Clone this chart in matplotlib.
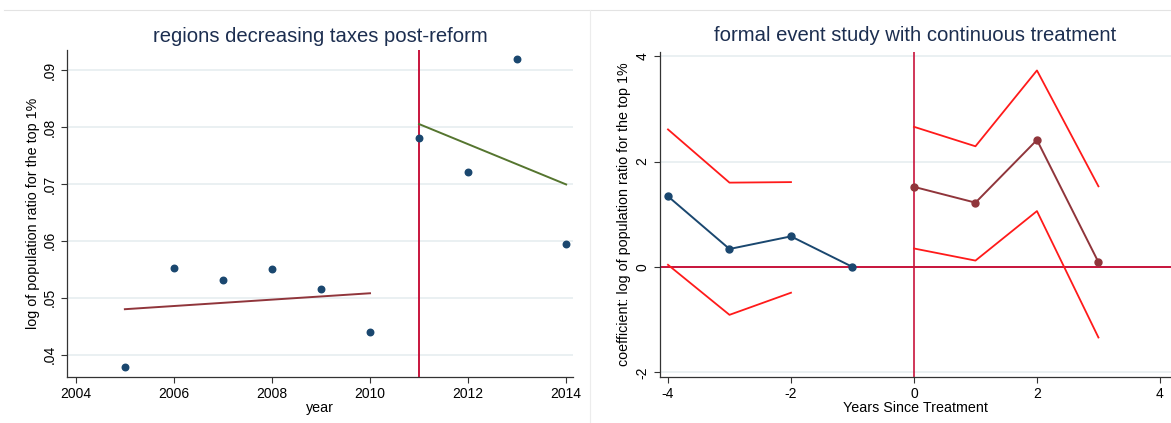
import numpy as np
import matplotlib
matplotlib.use("Agg")
import matplotlib.pyplot as plt
from matplotlib.lines import Line2D

plt.rcParams["font.family"] = ["Liberation Sans", "DejaVu Sans"]
plt.rcParams["axes.unicode_minus"] = False

# left panel: yearly means and pre/post linear fits
years = [2005, 2006, 2007, 2008, 2009, 2010, 2011, 2012, 2013, 2014]
ratio = [0.0379, 0.0553, 0.0532, 0.0551, 0.0516, 0.0440, 0.0781, 0.0721, 0.0919, 0.0595]
pre_fit_x = [2005, 2010]
pre_fit_y = [0.0480, 0.0508]
post_fit_x = [2011, 2014]
post_fit_y = [0.0805, 0.0699]
reform_year = 2011
left_yticks = [0.04, 0.05, 0.06, 0.07, 0.08, 0.09]
left_ylabels = [".04", ".05", ".06", ".07", ".08", ".09"]
left_xticks = [2004, 2006, 2008, 2010, 2012, 2014]

# right panel: event study coefficients with confidence bands
pre_t = [-4, -3, -2, -1]
pre_coef = [1.34, 0.34, 0.58, 0.0]
pre_ci_t = [-4, -3, -2]
pre_hi = [2.61, 1.60, 1.61]
pre_lo = [0.04, -0.91, -0.49]
post_t = [0, 1, 2, 3]
post_coef = [1.52, 1.22, 2.41, 0.09]
post_hi = [2.66, 2.29, 3.73, 1.53]
post_lo = [0.35, 0.12, 1.06, -1.34]
right_yticks = [-2, 0, 2, 4]
right_xticks = [-4, -2, 0, 2, 4]

NAVY = "#1a476f"
MAROON = "#90353b"
GREEN = "#55752f"
CRIMSON = "#c8143c"
RED = "#ff1a1a"
GRID = "#e6eef0"
TITLE_C = "#1c2e50"

W, H = 1171, 423
fig = plt.figure(figsize=(W / 100, H / 100), dpi=100)


def px_axes(x0, x1, ytop, ybot):
    return fig.add_axes([x0 / W, (H - ybot) / H, (x1 - x0) / W, (ybot - ytop) / H])


def style(ax):
    for s in ["top", "right"]:
        ax.spines[s].set_visible(False)
    for s in ["left", "bottom"]:
        ax.spines[s].set_color("#333333")
        ax.spines[s].set_linewidth(0.9)
    ax.tick_params(direction="out", length=4, width=0.8, color="#333333",
                   labelsize=10, labelcolor="black")
    ax.grid(axis="y", color=GRID, linewidth=1.2)
    ax.set_axisbelow(True)
    for lab in ax.get_yticklabels():
        lab.set_rotation(90)
        lab.set_va("center")


# left panel
ax1 = px_axes(67, 573, 50, 377)
ax1.set_xlim(2003.82, 2014.14)
ax1.set_ylim(0.0361, 0.0935)
ax1.set_xticks(left_xticks)
ax1.set_yticks(left_yticks)
ax1.set_yticklabels(left_ylabels)
ax1.axvline(reform_year, color=CRIMSON, linewidth=1.4, zorder=2)
ax1.plot(pre_fit_x, pre_fit_y, color=MAROON, linewidth=1.4, zorder=3)
ax1.plot(post_fit_x, post_fit_y, color=GREEN, linewidth=1.4, zorder=3)
ax1.scatter(years, ratio, s=22, color=NAVY, zorder=4)
style(ax1)
ax1.set_title("regions decreasing taxes post-reform", fontsize=14.6, color=TITLE_C, pad=6)
ax1.set_xlabel("year", fontsize=10.3, labelpad=0)
ax1.set_ylabel("log of population ratio for the top 1%", fontsize=10.3, labelpad=2)

# right panel
ax2 = px_axes(660, 1171, 52, 377)
ax2.set_xlim(-4.13, 4.18)
ax2.set_ylim(-2.09, 4.08)
ax2.set_xticks(right_xticks)
ax2.set_yticks(right_yticks)
ax2.axhline(0, color=CRIMSON, linewidth=1.4, zorder=2)
ax2.axvline(0, color=CRIMSON, linewidth=1.2, zorder=2)
ax2.plot(pre_ci_t, pre_hi, color=RED, linewidth=1.3, zorder=3)
ax2.plot(pre_ci_t, pre_lo, color=RED, linewidth=1.3, zorder=3)
ax2.plot(post_t, post_hi, color=RED, linewidth=1.3, zorder=3)
ax2.plot(post_t, post_lo, color=RED, linewidth=1.3, zorder=3)
ax2.plot(pre_t, pre_coef, color=NAVY, linewidth=1.4, marker="o", markersize=5, zorder=4)
ax2.plot(post_t, post_coef, color=MAROON, linewidth=1.4, marker="o", markersize=5, zorder=4)
style(ax2)
ax2.set_title("formal event study with continuous treatment", fontsize=14.6, color=TITLE_C, pad=8)
ax2.set_xlabel("Years Since Treatment", fontsize=10.3, labelpad=0)
ax2.set_ylabel("coefficient: log of population ratio for the top 1%", fontsize=10.3, labelpad=3)

# panel frames from the source page
fig.add_artist(Line2D([4 / W, 1], [1 - 10 / H, 1 - 10 / H], color="#e3e3e3", linewidth=0.8))
fig.add_artist(Line2D([590 / W, 590 / W], [0, 1 - 10 / H], color="#ececec", linewidth=0.8))

fig.savefig("out.png", dpi=100, facecolor="white")
